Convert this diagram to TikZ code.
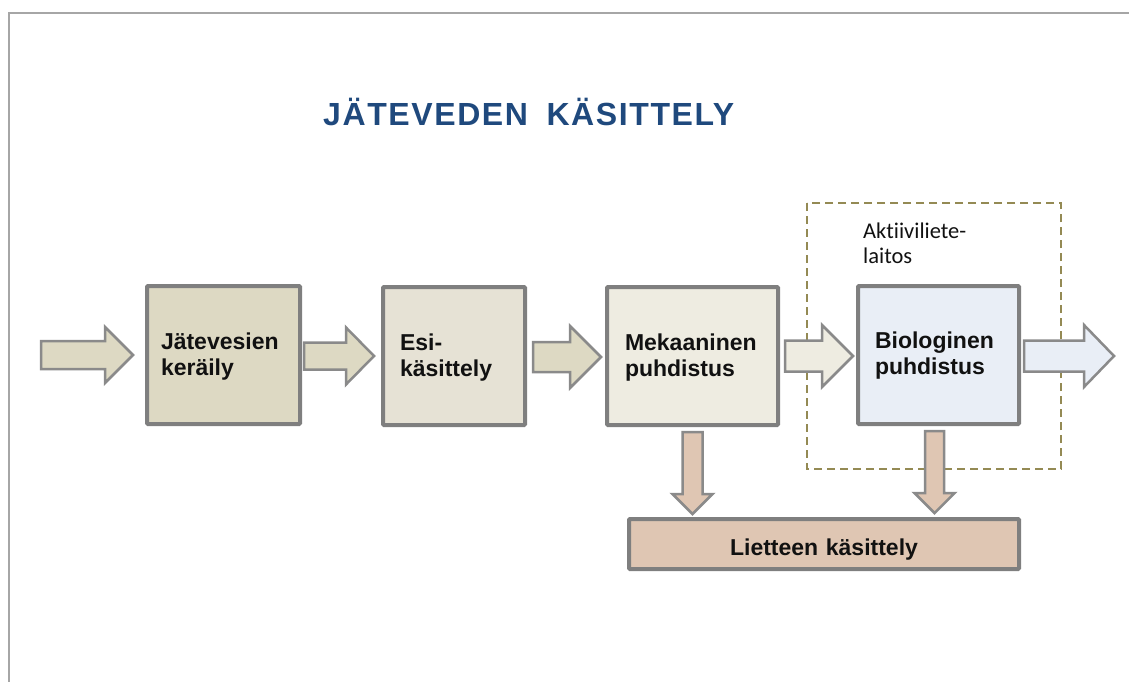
\documentclass[tikz,border=0pt]{standalone}
\usepackage{fontspec}
\setmainfont{Liberation Sans}
\newfontfamily\labelfont[Ligatures={NoCommon}]{Carlito}
\usetikzlibrary{calc}

\definecolor{titleblue}{HTML}{1F497D}
\definecolor{boxline}{HTML}{7F7F7F}
\definecolor{arrowline}{HTML}{8A8A8A}
\definecolor{tanA}{HTML}{DDD9C3}
\definecolor{tanB}{HTML}{E6E2D5}
\definecolor{tanC}{HTML}{EEECE1}
\definecolor{paleblue}{HTML}{E9EEF6}
\definecolor{sludge}{HTML}{DFC6B3}
\definecolor{olive}{HTML}{948A54}
\definecolor{framegray}{HTML}{A6A6A6}
\definecolor{textdark}{HTML}{111111}

% horizontal block arrow: [style]{start}{tip}{shaft half-height}{head half-height}{head length}
\newcommand{\hblock}[6][]{%
  \draw[blockarrow,#1] let \p1=#2, \p2=#3 in
    (\x1,\y1+#4pt) -- (\x2-#6pt,\y1+#4pt) -- (\x2-#6pt,\y1+#5pt) -- (\x2,\y1)
    -- (\x2-#6pt,\y1-#5pt) -- (\x2-#6pt,\y1-#4pt) -- (\x1,\y1-#4pt) -- cycle;}
% vertical (downward) block arrow: [style]{start}{tip}{shaft half-width}{head half-width}{head length}
\newcommand{\vblock}[6][]{%
  \draw[blockarrow,#1] let \p1=#2, \p2=#3 in
    (\x1-#4pt,\y1) -- (\x1-#4pt,\y2+#6pt) -- (\x1-#5pt,\y2+#6pt) -- (\x1,\y2)
    -- (\x1+#5pt,\y2+#6pt) -- (\x1+#4pt,\y2+#6pt) -- (\x1+#4pt,\y1) -- cycle;}

\begin{document}
\begin{tikzpicture}[x=1pt,y=-1pt,
  stagebox/.style={draw=boxline, line width=4pt, rounded corners=1pt, outer sep=0pt,
    text=textdark, font=\fontsize{23}{26.5}\selectfont\bfseries,
    align=left, inner ysep=0pt, minimum height=138pt,
    text height=16pt, text depth=28pt},
  blockarrow/.style={draw=arrowline, line width=2.5pt, line join=miter, fill=tanA},
]
\useasboundingbox (0,0) rectangle (1129,682);

% page frame
\draw[framegray, line width=2pt] (9,682) -- (9,13) -- (1129,13);

% title
\node[anchor=base west, inner sep=0pt, text=titleblue,
      font=\addfontfeature{LetterSpace=5}\fontsize{32}{36}\selectfont\bfseries]
  (title) at (323,125) {JÄTEVEDEN\hspace{8pt} KÄSITTELY};

% activated sludge plant outline
\draw[olive, line width=1.5pt, dash pattern=on 8pt off 5pt] (807,203) rectangle (1061,469);
\node[anchor=base west, inner sep=0pt, align=left, text=textdark,
      font=\labelfont\fontsize{22.5}{25}\selectfont]
  (plant) at (863,263) {Aktiiviliete-\\laitos};

% process stages
\node[stagebox, fill=tanA, minimum width=153pt, text width=125pt, inner xsep=14pt]
  (b1) at (223.5,355) {Jätevesien\\keräily};
\node[stagebox, fill=tanB, minimum width=142pt, text width=108pt, inner xsep=17pt]
  (b2) at (454,356) {Esi-\\käsittely};
\node[stagebox, fill=tanC, minimum width=171pt, text width=135pt, inner xsep=18pt]
  (b3) at (692.5,356) {Mekaaninen\\puhdistus};
\node[stagebox, fill=paleblue, minimum width=161pt, text width=127pt, inner xsep=17pt,
      text depth=30pt]
  (b4) at (938.5,355) {Biologinen\\puhdistus};
\node[stagebox, fill=sludge, minimum width=390pt, minimum height=50pt, align=center,
      text width=360pt, inner xsep=15pt, text height=22pt, text depth=0pt]
  (lt) at (824,544) {Lietteen käsittely};

% free ends of the inflow and outflow
\coordinate (inflow) at (41,355);
\coordinate (outflow) at (1114,356);

% flow arrows
\hblock{(inflow)}{($(b1.west)+(-14,0)$)}{14}{28}{28}
\hblock{($(b1.east)+(4,1)$)}{($(b2.west)+(-9,0)$)}{13.5}{28.5}{28}
\hblock{($(b2.east)+(8,1)$)}{($(b3.west)+(-6,0)$)}{15}{31}{31}
\hblock[fill=tanC]{($(b3.east)+(7,0)$)}{($(b4.west)+(-5,0)$)}{15.5}{31}{31}
\hblock[fill=paleblue]{($(b4.east)+(5,1)$)}{(outflow)}{15.5}{31}{30}

% sludge arrows
\vblock[fill=sludge]{($(b3.south)+(0,7)$)}{($(b3.south |- lt.north)+(0,-5)$)}{10}{20}{20}
\vblock[fill=sludge]{($(b4.south)+(-4,7)$)}{($(b4.south |- lt.north)+(-4,-6)$)}{9.5}{20}{20}
\end{tikzpicture}
\end{document}
